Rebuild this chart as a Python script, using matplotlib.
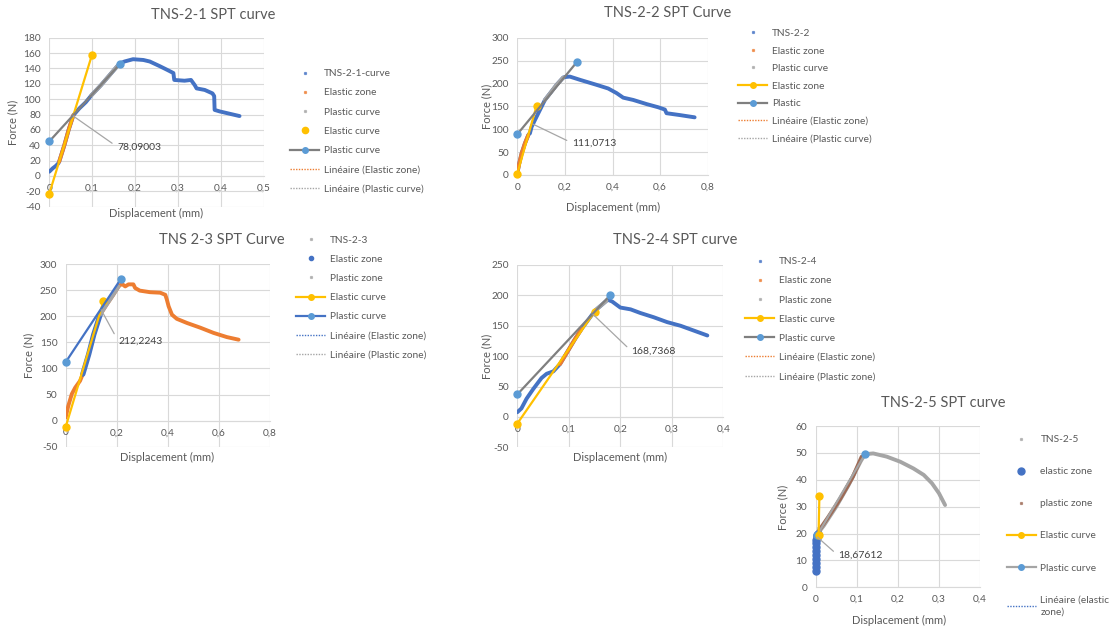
import numpy as np
import matplotlib
matplotlib.use("Agg")
import matplotlib.pyplot as plt
from matplotlib.lines import Line2D
from matplotlib.ticker import MultipleLocator, FuncFormatter

plt.rcParams["font.family"] = ["Lato", "DejaVu Sans"]

# ---------------- data ----------------
# TNS-2-1
t1_x = [0, 0.008, 0.015, 0.021, 0.023, 0.035, 0.045, 0.056, 0.070, 0.085, 0.098, 0.120, 0.140,
        0.160, 0.167, 0.175, 0.195, 0.219, 0.234, 0.257, 0.275, 0.289, 0.291, 0.315, 0.330,
        0.339, 0.343, 0.362, 0.380, 0.384, 0.385, 0.397, 0.420, 0.443]
t1_y = [5.6, 10, 13, 16.4, 18.6, 40, 60, 79, 88, 96, 105, 118, 131,
        144, 147, 149, 152, 151, 149, 143, 138, 134, 125, 124, 125,
        118, 114, 112, 107.5, 104, 86, 84, 81, 78]
t1_el_x = [0.023, 0.035, 0.045, 0.056]
t1_el_y = [18.6, 40, 60, 79]
t1_pl_x = [0.098, 0.120, 0.140, 0.160]
t1_pl_y = [105, 118, 131, 144]
t1_ecurve_x = [0, 0.099]
t1_ecurve_y = [-23, 157]
t1_pcurve_x = [0, 0.165]
t1_pcurve_y = [45, 146]
t1_label_x, t1_label_y = 0.0556, 78.09003

# TNS-2-2
t2_x = [0, 0.008, 0.018, 0.032, 0.046, 0.050, 0.053, 0.060, 0.074, 0.095, 0.116, 0.140, 0.165,
        0.193, 0.200, 0.221, 0.263, 0.333, 0.382, 0.417, 0.445, 0.487, 0.543, 0.592, 0.620,
        0.627, 0.682, 0.745]
t2_y = [3.6, 25, 47, 69, 87, 90, 91, 105, 120, 142, 164, 180, 197,
        213, 214, 215, 208, 197, 189, 179, 169, 164, 155, 148, 143,
        135, 131, 126]
t2_el_x = [0, 0.008, 0.018, 0.032, 0.046]
t2_el_y = [3.6, 25, 47, 69, 87]
t2_pl_x = [0.116, 0.140, 0.165, 0.193]
t2_pl_y = [164, 180, 197, 213]
t2_ecurve_x = [0, 0.081]
t2_ecurve_y = [3, 151]
t2_pcurve_x = [0, 0.249]
t2_pcurve_y = [89, 246]
t2_label_x, t2_label_y = 0.066, 111.0713

# TNS-2-3
t3_x = [0, 0.010, 0.024, 0.037, 0.056, 0.067, 0.090, 0.110, 0.135, 0.160, 0.185, 0.207, 0.220,
        0.233, 0.246, 0.265, 0.272, 0.290, 0.330, 0.370, 0.390, 0.396, 0.403, 0.416, 0.435,
        0.475, 0.527, 0.579, 0.631, 0.677]
t3_y = [6, 28, 51, 63, 76, 89, 127, 165, 203, 222, 240, 257, 262,
        257, 261, 261, 254, 249, 246, 245, 241, 232, 219, 203, 195,
        187, 178, 168, 160, 155]
t3_el_x = [0.067, 0.090, 0.110, 0.135]
t3_el_y = [89, 127, 165, 203]
t3_pl_x = [0.135, 0.160, 0.185, 0.207]
t3_pl_y = [203, 222, 240, 257]
t3_ecurve_x = [0, 0.148]
t3_ecurve_y = [-12, 229]
t3_pcurve_x = [0, 0.217]
t3_pcurve_y = [112, 272]
t3_label_x, t3_label_y = 0.139, 212.2243

# TNS-2-4
t4_x = [0, 0.008, 0.018, 0.031, 0.047, 0.057, 0.070, 0.083, 0.100, 0.112, 0.125, 0.138, 0.151,
        0.162, 0.173, 0.175, 0.184, 0.200, 0.220, 0.239, 0.265, 0.291, 0.317, 0.343, 0.369]
t4_y = [7.7, 14, 30, 46, 64, 71, 75, 87, 111, 128, 145, 160, 175,
        183, 191, 193, 190, 180, 177, 171, 164, 156, 150, 142, 134]
t4_el_x = [0.083, 0.100, 0.112, 0.125]
t4_el_y = [87, 111, 128, 145]
t4_pl_x = [0.151, 0.162, 0.173]
t4_pl_y = [175, 183, 191]
t4_ecurve_x = [0, 0.150]
t4_ecurve_y = [-11, 173]
t4_pcurve_x = [0, 0.180]
t4_pcurve_y = [37, 200]
t4_label_x, t4_label_y = 0.147, 168.7368

# TNS-2-5
t5_x = [0.005, 0.020, 0.050, 0.080, 0.110, 0.120, 0.140, 0.173, 0.206, 0.238, 0.263, 0.283,
        0.300, 0.315]
t5_y = [20, 23, 30, 38, 47, 49.5, 49.8, 48.6, 46.7, 44.2, 41.8, 38.7, 35, 30.6]
t5_el_x = [0, 0, 0, 0, 0.001, 0, 0.001, 0, 0.001, 0.002, 0.003, 0.004, 0.005, 0.006]
t5_el_y = [6, 7.5, 9, 10.5, 12, 13.5, 15, 16.5, 17.5, 18.5, 19, 19.5, 20, 20]
t5_pl_x = [0.006, 0.030, 0.060, 0.090, 0.112]
t5_pl_y = [20.7, 26, 33, 41, 48.6]
t5_ecurve_x = [0.007, 0.009]
t5_ecurve_y = [19.5, 34]
t5_pcurve_x = [0.004, 0.120]
t5_pcurve_y = [19.5, 49.5]
t5_label_x, t5_label_y = 0.004, 18.67612

# ---------------- style ----------------
W, H = 1114, 630
BLUE = "#4472C4"
ORANGE = "#ED7D31"
GRAY = "#A5A5A5"
YELLOW = "#FFC000"
LBLUE = "#5B9BD5"
DGRAY = "#7F7F7F"
BROWN = "#9E6A55"
TXT = "#595959"
GRID = "#D9D9D9"
LEAD = "#A6A6A6"
LEG_FS = 7.3

fig = plt.figure(figsize=(W / 100, H / 100), dpi=100)
fig.patch.set_facecolor("white")


def fx(x):
    return x / W


def fy(y):
    return 1 - y / H


def make_axes(x0, y0, x1, y1):
    return fig.add_axes([fx(x0), fy(y1), (x1 - x0) / W, (y1 - y0) / H])


comma = FuncFormatter(lambda v, p: f"{round(v, 6) + 0.0:g}".replace(".", ","))


def style(ax, xlim, xstep, ylim, ystep):
    ax.set_xlim(*xlim)
    ax.set_ylim(*ylim)
    ax.xaxis.set_major_locator(MultipleLocator(xstep))
    ax.yaxis.set_major_locator(MultipleLocator(ystep))
    ax.xaxis.set_major_formatter(comma)
    ax.yaxis.set_major_formatter(comma)
    for s in ["top", "right", "left"]:
        ax.spines[s].set_visible(False)
    ax.spines["bottom"].set_position(("data", 0))
    ax.spines["bottom"].set_color(GRID)
    ax.spines["bottom"].set_linewidth(0.8)
    ax.grid(True, color=GRID, lw=0.8)
    ax.set_axisbelow(True)
    ax.tick_params(length=0, labelsize=7.3, labelcolor=TXT)
    ax.tick_params(axis="x", pad=5.5)
    ax.tick_params(axis="y", pad=6)


def labels(title, tpos, xlpos, ylpos):
    fig.text(fx(tpos[0]), fy(tpos[1]), title, ha="center", va="center",
             fontsize=10.5, color=TXT)
    fig.text(fx(xlpos[0]), fy(xlpos[1]), "Displacement (mm)", ha="center",
             va="center", fontsize=8, color=TXT)
    fig.text(fx(ylpos[0]), fy(ylpos[1]), "Force (N)", ha="center", va="center",
             rotation=90, fontsize=8, color=TXT)


def data_line(ax, x, y, color, lw=2.8, z=3):
    ax.plot(x, y, color=color, lw=lw, solid_capstyle="round",
            solid_joinstyle="round", zorder=z)


def trend(ax, x, y, color, z=5):
    k, b = np.polyfit(x, y, 1)
    xs = np.array([min(x), max(x)])
    ax.plot(xs, k * xs + b, color=color, lw=0.9, ls=(0, (1, 1)), zorder=z)


def marked_line(ax, x, y, lc, mc, ms=5, lw=1.6, z=6):
    ax.plot(x, y, color=lc, lw=lw, marker="o", ms=ms, mfc=mc, mec=mc,
            zorder=z, clip_on=False)


def value_label(ax, x, y, tx, ty):
    ax.annotate(f"{y}".replace(".", ","), xy=(x, y), xytext=(tx, ty),
                textcoords="data", fontsize=7.5, color="#404040",
                ha="left", va="center", zorder=8,
                arrowprops=dict(arrowstyle="-", color=LEAD, lw=0.9,
                                shrinkA=2, shrinkB=0, relpos=(0, 0.5)))


def tiny(color):
    return Line2D([], [], ls="none", marker="s", ms=1.3, color=color, alpha=0.7)


def dot(color, ms=4.5):
    return Line2D([], [], ls="none", marker="o", ms=ms, color=color)


def lm(lc, mc):
    return Line2D([], [], color=lc, lw=1.6, marker="o", ms=4, mfc=mc, mec=mc)


def dotted(color):
    return Line2D([], [], color=color, lw=1.0, ls=(0, (1, 1)))


def legend(ax, handles, names, x_left, y_center, spacing):
    leg = ax.legend(handles, names, loc="center left",
                    bbox_to_anchor=(fx(x_left), fy(y_center)),
                    bbox_transform=fig.transFigure, frameon=False, fontsize=LEG_FS,
                    handlelength=2.9, handletextpad=0.45, labelspacing=spacing,
                    borderpad=0, borderaxespad=0, labelcolor=TXT)
    return leg


# ---------------- TNS-2-1 ----------------
ax1 = make_axes(49.3, 37.7, 264, 206.7)
style(ax1, (0, 0.5), 0.1, (-40, 180), 20)
data_line(ax1, t1_x, t1_y, BLUE)
data_line(ax1, t1_el_x, t1_el_y, ORANGE, z=4)
data_line(ax1, t1_pl_x, t1_pl_y, GRAY, z=4)
trend(ax1, t1_el_x, t1_el_y, ORANGE)
trend(ax1, t1_pl_x, t1_pl_y, GRAY)
marked_line(ax1, t1_ecurve_x, t1_ecurve_y, YELLOW, YELLOW)
marked_line(ax1, t1_pcurve_x, t1_pcurve_y, DGRAY, LBLUE)
value_label(ax1, t1_label_x, t1_label_y, 0.158, 38)
labels("TNS-2-1 SPT curve", (213, 15), (156, 213), (13, 122))
legend(ax1,
       [tiny(BLUE), tiny(ORANGE), tiny(GRAY), dot(YELLOW), lm(DGRAY, LBLUE),
        dotted(ORANGE), dotted(GRAY)],
       ["TNS-2-1-curve", "Elastic zone", "Plastic curve", "Elastic curve",
        "Plastic curve", "Linéaire (Elastic zone)", "Linéaire (Plastic curve)"],
       290, 131.3, 1.0)

# ---------------- TNS-2-2 ----------------
ax2 = make_axes(517.3, 37.7, 707.7, 175)
style(ax2, (0, 0.8), 0.2, (0, 300), 50)
data_line(ax2, t2_x, t2_y, BLUE)
data_line(ax2, t2_el_x, t2_el_y, ORANGE, z=4)
data_line(ax2, t2_pl_x, t2_pl_y, GRAY, z=4)
trend(ax2, t2_el_x, t2_el_y, ORANGE)
trend(ax2, t2_pl_x, t2_pl_y, GRAY)
marked_line(ax2, t2_ecurve_x, t2_ecurve_y, YELLOW, YELLOW)
marked_line(ax2, t2_pcurve_x, t2_pcurve_y, DGRAY, LBLUE)
value_label(ax2, t2_label_x, t2_label_y, 0.23, 70)
labels("TNS-2-2 SPT Curve", (668, 13), (613, 207), (487, 106))
legend(ax2,
       [tiny(BLUE), tiny(ORANGE), tiny(GRAY), lm(YELLOW, YELLOW), lm(DGRAY, LBLUE),
        dotted(ORANGE), dotted(GRAY)],
       ["TNS-2-2", "Elastic zone", "Plastic curve", "Elastic zone", "Plastic",
        "Linéaire (Elastic zone)", "Linéaire (Plastic curve)"],
       738, 86, 0.83)

# ---------------- TNS-2-3 ----------------
ax3 = make_axes(65.7, 264, 270, 446.7)
style(ax3, (0, 0.8), 0.2, (-50, 300), 50)
data_line(ax3, t3_x, t3_y, ORANGE)
data_line(ax3, t3_el_x, t3_el_y, BLUE, lw=3.8, z=4)
data_line(ax3, t3_pl_x, t3_pl_y, GRAY, z=4)
trend(ax3, t3_el_x, t3_el_y, BLUE)
trend(ax3, t3_pl_x, t3_pl_y, GRAY)
marked_line(ax3, t3_ecurve_x, t3_ecurve_y, YELLOW, YELLOW)
marked_line(ax3, t3_pcurve_x, t3_pcurve_y, BLUE, LBLUE)
value_label(ax3, t3_label_x, t3_label_y, 0.206, 152)
labels("TNS 2-3 SPT Curve", (222, 240), (167, 457), (29, 355))
legend(ax3,
       [tiny(GRAY), dot(BLUE, 3), tiny(GRAY), lm(YELLOW, YELLOW), lm(BLUE, LBLUE),
        dotted(BLUE), dotted(GRAY)],
       ["TNS-2-3", "Elastic zone", "Plastic zone", "Elastic curve", "Plastic curve",
        "Linéaire (Elastic zone)", "Linéaire (Plastic zone)"],
       296, 297.5, 0.99)

# ---------------- TNS-2-4 ----------------
ax4 = make_axes(517.3, 265, 723.3, 447.3)
style(ax4, (0, 0.4), 0.1, (-50, 250), 50)
data_line(ax4, t4_x, t4_y, BLUE)
data_line(ax4, t4_el_x, t4_el_y, ORANGE, z=4)
data_line(ax4, t4_pl_x, t4_pl_y, GRAY, z=4)
trend(ax4, t4_el_x, t4_el_y, ORANGE)
trend(ax4, t4_pl_x, t4_pl_y, GRAY)
marked_line(ax4, t4_ecurve_x, t4_ecurve_y, YELLOW, YELLOW)
marked_line(ax4, t4_pcurve_x, t4_pcurve_y, DGRAY, LBLUE)
value_label(ax4, t4_label_x, t4_label_y, 0.222, 108)
labels("TNS-2-4 SPT curve", (675, 240), (620, 457), (487, 356))
legend(ax4,
       [tiny(BLUE), tiny(ORANGE), tiny(GRAY), lm(YELLOW, YELLOW), lm(DGRAY, LBLUE),
        dotted(ORANGE), dotted(GRAY)],
       ["TNS-2-4", "Elastic zone", "Plastic zone", "Elastic curve", "Plastic curve",
        "Linéaire (Elastic zone)", "Linéaire (Plastic zone)"],
       745, 319.2, 0.99)

# ---------------- TNS-2-5 ----------------
ax5 = make_axes(815.7, 426, 980, 587.3)
style(ax5, (0, 0.4), 0.1, (0, 60), 10)
data_line(ax5, t5_x, t5_y, GRAY)
data_line(ax5, t5_pl_x, t5_pl_y, BROWN, z=4)
trend(ax5, t5_pl_x, t5_pl_y, BROWN)
ax5.plot(t5_el_x, t5_el_y, ls="none", marker="o", ms=5, color=BLUE, zorder=5,
         clip_on=False)
trend(ax5, t5_el_x, t5_el_y, BLUE)
marked_line(ax5, t5_ecurve_x, t5_ecurve_y, YELLOW, YELLOW)
marked_line(ax5, t5_pcurve_x, t5_pcurve_y, GRAY, LBLUE, z=5)
value_label(ax5, t5_label_x, t5_label_y, 0.055, 11.8)
labels("TNS-2-5 SPT curve", (943, 403), (899, 620), (783, 507))
leg5 = legend(ax5,
              [tiny(GRAY), dot(BLUE, 5), tiny(BROWN), lm(YELLOW, YELLOW), lm(GRAY, LBLUE),
               dotted(BLUE)],
              ["TNS-2-5", "elastic zone", "plastic zone", "Elastic curve", "Plastic curve",
               "Linéaire (elastic\nzone)"],
              1006.5, 526, 2.27)
leg5.get_texts()[-1].set_linespacing(1.5)

fig.savefig("out.png", dpi=100, facecolor="white")
